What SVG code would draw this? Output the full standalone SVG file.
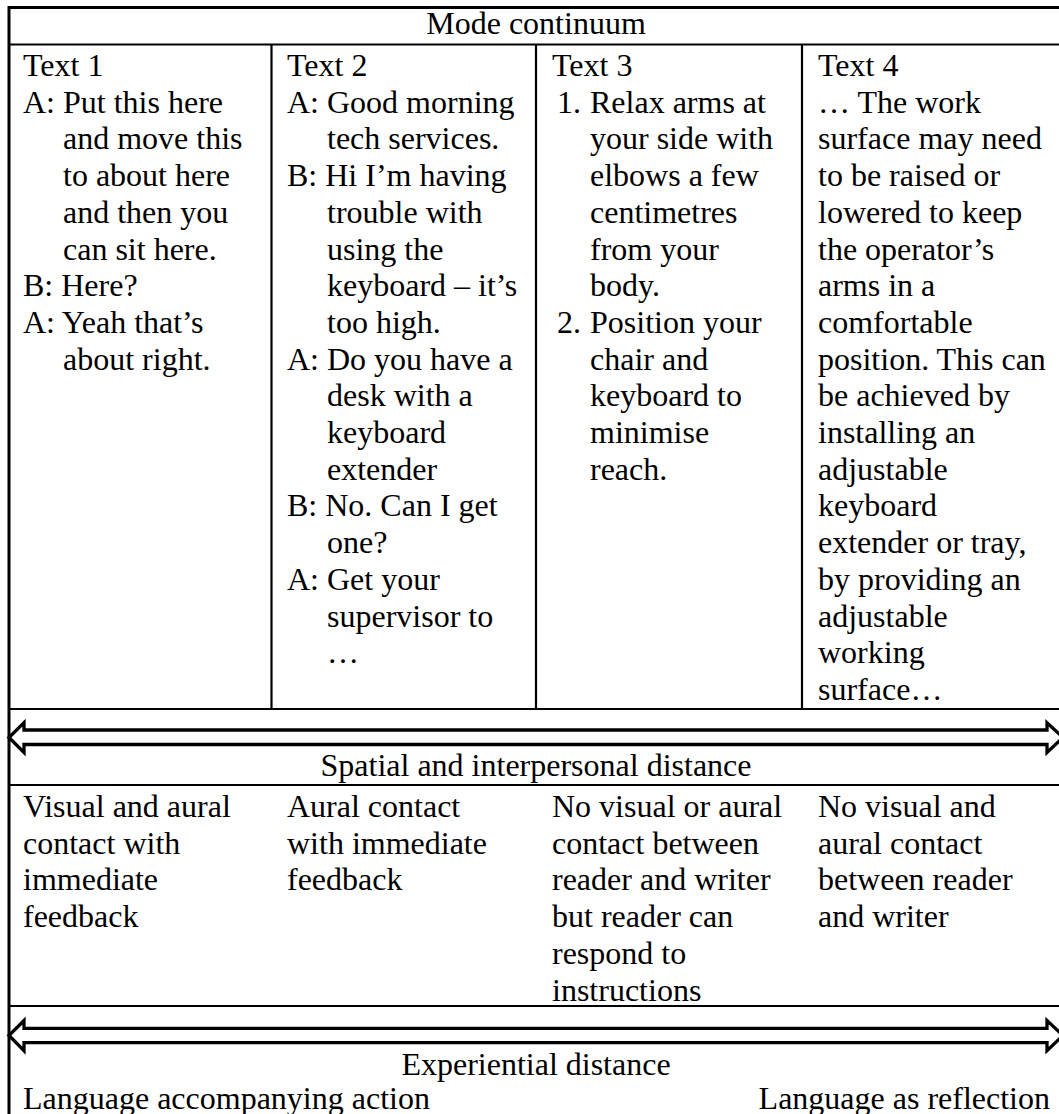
<svg xmlns="http://www.w3.org/2000/svg" width="1059" height="1114" viewBox="0 0 1059 1114">
  <style>
    .t { font-family: "Liberation Serif", "Times New Roman", serif; font-size: 32px; fill: #000; }
    .c { text-anchor: middle; }
    .rule { stroke: #000; stroke-width: 2.2; fill: none; }
    .outer { stroke: #000; stroke-width: 3; fill: none; }
    .arrow { stroke: #000; stroke-width: 3.3; fill: #fff; stroke-linejoin: miter; }
  </style>
  <rect width="1059" height="1114" fill="#fff"/>

  <!-- table frame and grid -->
  <g id="grid">
    <line class="outer" x1="9" y1="7.5" x2="1059" y2="7.5"/>
    <line class="outer" x1="9" y1="6" x2="9" y2="1114"/>
    <line class="rule" x1="9" y1="44.5" x2="1059" y2="44.5"/>
    <line class="rule" x1="271.5" y1="44.5" x2="271.5" y2="709"/>
    <line class="rule" x1="536" y1="44.5" x2="536" y2="709"/>
    <line class="rule" x1="802" y1="44.5" x2="802" y2="709"/>
    <line class="rule" x1="9" y1="709" x2="1059" y2="709"/>
    <line class="rule" x1="9" y1="785" x2="1059" y2="785"/>
    <line class="rule" x1="9" y1="1006" x2="1059" y2="1006"/>
  </g>

  <!-- header -->
  <g id="mode-header">
    <text class="t c" x="536" y="34">Mode continuum</text>
  </g>

  <!-- text samples -->
  <g id="text1">
    <text class="t">
      <tspan x="23" y="76">Text 1</tspan>
      <tspan x="23" y="112.7">A: Put this here</tspan>
      <tspan x="63" y="149.4">and move this</tspan>
      <tspan x="63" y="186.1">to about here</tspan>
      <tspan x="63" y="222.8">and then you</tspan>
      <tspan x="63" y="259.5">can sit here.</tspan>
      <tspan x="23" y="296.2">B: Here?</tspan>
      <tspan x="23" y="332.9">A: Yeah that’s</tspan>
      <tspan x="63" y="369.6">about right.</tspan>
    </text>
  </g>

  <g id="text2">
    <text class="t">
      <tspan x="287" y="76">Text 2</tspan>
      <tspan x="287" y="112.7">A: Good morning</tspan>
      <tspan x="327" y="149.4">tech services.</tspan>
      <tspan x="287" y="186.1">B: Hi I’m having</tspan>
      <tspan x="327" y="222.8">trouble with</tspan>
      <tspan x="327" y="259.5">using the</tspan>
      <tspan x="327" y="296.2">keyboard – it’s</tspan>
      <tspan x="327" y="332.9">too high.</tspan>
      <tspan x="287" y="369.6">A: Do you have a</tspan>
      <tspan x="327" y="406.3">desk with a</tspan>
      <tspan x="327" y="443">keyboard</tspan>
      <tspan x="327" y="479.7">extender</tspan>
      <tspan x="287" y="516.4">B: No. Can I get</tspan>
      <tspan x="327" y="553.1">one?</tspan>
      <tspan x="287" y="589.8">A: Get your</tspan>
      <tspan x="327" y="626.5">supervisor to</tspan>
      <tspan x="327" y="663.2">…</tspan>
    </text>
  </g>

  <g id="text3">
    <text class="t">
      <tspan x="552" y="76">Text 3</tspan>
      <tspan x="557" y="112.7">1.</tspan>
      <tspan x="590" y="112.7">Relax arms at</tspan>
      <tspan x="590" y="149.4">your side with</tspan>
      <tspan x="590" y="186.1">elbows a few</tspan>
      <tspan x="590" y="222.8">centimetres</tspan>
      <tspan x="590" y="259.5">from your</tspan>
      <tspan x="590" y="296.2">body.</tspan>
      <tspan x="557" y="332.9">2.</tspan>
      <tspan x="590" y="332.9">Position your</tspan>
      <tspan x="590" y="369.6">chair and</tspan>
      <tspan x="590" y="406.3">keyboard to</tspan>
      <tspan x="590" y="443">minimise</tspan>
      <tspan x="590" y="479.7">reach.</tspan>
    </text>
  </g>

  <g id="text4">
    <text class="t">
      <tspan x="818" y="76">Text 4</tspan>
      <tspan x="818" y="112.7">… The work</tspan>
      <tspan x="818" y="149.4">surface may need</tspan>
      <tspan x="818" y="186.1">to be raised or</tspan>
      <tspan x="818" y="222.8">lowered to keep</tspan>
      <tspan x="818" y="259.5">the operator’s</tspan>
      <tspan x="818" y="296.2">arms in a</tspan>
      <tspan x="818" y="332.9">comfortable</tspan>
      <tspan x="818" y="369.6">position. This can</tspan>
      <tspan x="818" y="406.3">be achieved by</tspan>
      <tspan x="818" y="443">installing an</tspan>
      <tspan x="818" y="479.7">adjustable</tspan>
      <tspan x="818" y="516.4">keyboard</tspan>
      <tspan x="818" y="553.1">extender or tray,</tspan>
      <tspan x="818" y="589.8">by providing an</tspan>
      <tspan x="818" y="626.5">adjustable</tspan>
      <tspan x="818" y="663.2">working</tspan>
      <tspan x="818" y="699.9">surface…</tspan>
    </text>
  </g>

  <!-- double-headed continuum arrows -->
  <g id="connectors">
    <path class="arrow" d="M9,737.5 L24,722.7 L24,730 L1047,730 L1047,722.7 L1063,737.5 L1047,752.5 L1047,744.5 L24,744.5 L24,752.5 Z"/>
    <path class="arrow" d="M9,1035.5 L24,1020.5 L24,1028.3 L1047,1028.3 L1047,1020.5 L1063,1035.5 L1047,1050.7 L1047,1042.7 L24,1042.7 L24,1050.7 Z"/>
  </g>

  <g id="spatial-header">
    <text class="t c" x="536" y="776">Spatial and interpersonal distance</text>
  </g>

  <g id="contact1">
    <text class="t">
      <tspan x="23" y="817">Visual and aural</tspan>
      <tspan x="23" y="853.7">contact with</tspan>
      <tspan x="23" y="890.4">immediate</tspan>
      <tspan x="23" y="927.1">feedback</tspan>
    </text>
  </g>
  <g id="contact2">
    <text class="t">
      <tspan x="287" y="817">Aural contact</tspan>
      <tspan x="287" y="853.7">with immediate</tspan>
      <tspan x="287" y="890.4">feedback</tspan>
    </text>
  </g>
  <g id="contact3">
    <text class="t">
      <tspan x="552" y="817">No visual or aural</tspan>
      <tspan x="552" y="853.7">contact between</tspan>
      <tspan x="552" y="890.4">reader and writer</tspan>
      <tspan x="552" y="927.1">but reader can</tspan>
      <tspan x="552" y="963.8">respond to</tspan>
      <tspan x="552" y="1000.5">instructions</tspan>
    </text>
  </g>
  <g id="contact4">
    <text class="t">
      <tspan x="818" y="817">No visual and</tspan>
      <tspan x="818" y="853.7">aural contact</tspan>
      <tspan x="818" y="890.4">between reader</tspan>
      <tspan x="818" y="927.1">and writer</tspan>
    </text>
  </g>

  <g id="experiential">
    <text class="t c" x="536" y="1075">Experiential distance</text>
    <text class="t" x="23" y="1109">Language accompanying action</text>
    <text class="t" x="1050" y="1109" text-anchor="end">Language as reflection</text>
  </g>
</svg>
